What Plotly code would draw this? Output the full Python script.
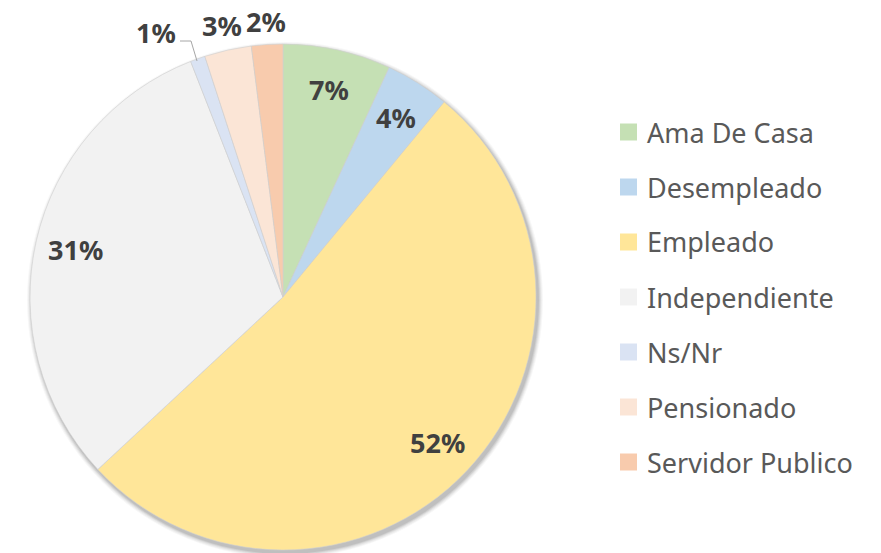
import math
import plotly.graph_objects as go

# ---- data ----
categories = ["Ama De Casa", "Desempleado", "Empleado", "Independiente",
              "Ns/Nr", "Pensionado", "Servidor Publico"]
values = [6.9, 4.1, 52.1, 31.0, 0.95, 3.0, 2.0]
colors = ["#C5E0B4", "#BDD7EE", "#FFE699", "#F2F2F2",
          "#DAE3F3", "#FBE5D6", "#F8CBAD"]

# ---- geometry / styles ----
OFF = 8  # page body margin
W, H = 881 - OFF, 553 - OFF
CX, CY, R = 283 - OFF, 297 - OFF, 253
MT = CY - R
MB = H - (CY + R)
PH = H - MT - MB
label_r = [0.84, 0.84, 0.84, 0.84, 1.16, 1.10, 1.09]
label_shift = [0, 0, 0, 0, -6, 0, 0]
FONT = "Noto Sans"


def px2paper(x, y):
    # x, y in screen pixels
    x -= OFF
    y -= OFF
    return x / W, (H - MB - y) / PH


SCX, SCY = CX + OFF, CY + OFF

fig = go.Figure()
fig.add_trace(go.Pie(
    labels=categories, values=values, sort=False, direction="clockwise",
    rotation=0, marker=dict(colors=colors, line=dict(color="#D0D0D0", width=0.6)),
    textinfo="none", hoverinfo="label+percent", showlegend=False,
    domain=dict(x=[(CX - R) / W, (CX + R) / W], y=[0, 1]),
))

total = sum(values)
annotations = []
shapes = []

# shadow
for k, op in [(5, 0.03), (4, 0.04), (3, 0.05), (2, 0.07), (1, 0.08)]:
    x0, y0 = px2paper(SCX + 2 - R - k, SCY + 3 + R + k)
    x1, y1 = px2paper(SCX + 2 + R + k, SCY + 3 - R - k)
    shapes.append(dict(type="circle", xref="paper", yref="paper", x0=x0, y0=y0,
                       x1=x1, y1=y1, fillcolor=f"rgba(0,0,0,{op})",
                       line=dict(width=0), layer="below"))

cum = 0
for i, (cat, v) in enumerate(zip(categories, values)):
    mid = (cum + v / 2) / total * 360 + label_shift[i]
    cum += v
    rr = R * label_r[i]
    lx = SCX + rr * math.sin(math.radians(mid))
    ly = SCY - rr * math.cos(math.radians(mid))
    ax, ay = px2paper(lx, ly)
    pct = round(v / total * 100)
    annotations.append(dict(x=ax, y=ay, xref="paper", yref="paper",
                            text=f"<b>{pct}%</b>", showarrow=False,
                            font=dict(family=FONT, size=27, color="#404040"),
                            xanchor="center", yanchor="middle"))

# leader line for the small Ns/Nr label
p1 = px2paper(180, 41)
p2 = px2paper(191, 41)
p3 = px2paper(197, 61)
shapes.append(dict(type="path", xref="paper", yref="paper",
                   path=f"M {p1[0]},{p1[1]} L {p2[0]},{p2[1]} L {p3[0]},{p3[1]}",
                   line=dict(color="#A6A6A6", width=1)))

# legend
for i, (cat, col) in enumerate(zip(categories, colors)):
    yc = 132 + 55 * i
    x0, y0 = px2paper(620, yc + 8.5)
    x1, y1 = px2paper(637, yc - 8.5)
    shapes.append(dict(type="rect", xref="paper", yref="paper", x0=x0, y0=y0,
                       x1=x1, y1=y1, fillcolor=col, line=dict(width=0)))
    tx, ty = px2paper(645, yc)
    annotations.append(dict(x=tx, y=ty, xref="paper", yref="paper", text=cat,
                            showarrow=False, xanchor="left", yanchor="middle",
                            font=dict(family=FONT, size=27, color="#595959")))

fig.update_layout(
    width=W, height=H, margin=dict(l=0, r=0, t=MT, b=MB),
    paper_bgcolor="white", plot_bgcolor="white",
    showlegend=False, annotations=annotations, shapes=shapes,
)

fig.write_html("out.html")
